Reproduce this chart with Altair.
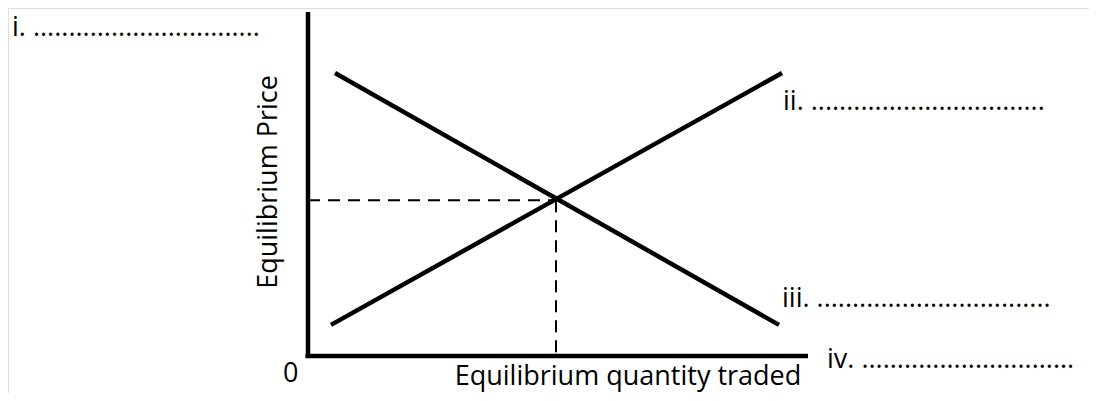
import altair as alt
import pandas as pd

# Curves (quantity, price in abstract units)
supply_q = [0.46, 9.48]
supply_p = [0.9, 8.18]
demand_q = [0.54, 9.42]
demand_p = [8.18, 0.9]
eq_q = 4.96
eq_p = 4.5
x_axis_end = 10.0
y_axis_end = 9.94

FONT = "Open Sans"
FS = 27
XDOM = [-6.0, 15.62]
YDOM = [-1.069, 10.058]

xs = alt.Scale(domain=XDOM, nice=False, zero=False)
ys = alt.Scale(domain=YDOM, nice=False, zero=False)

segs = pd.DataFrame({
    "name": ["supply", "demand", "xaxis", "yaxis"],
    "q1": [supply_q[0], demand_q[0], -0.05, 0.0],
    "p1": [supply_p[0], demand_p[0], 0.0, -0.06],
    "q2": [supply_q[1], demand_q[1], x_axis_end, 0.0],
    "p2": [supply_p[1], demand_p[1], 0.0, y_axis_end],
})
dashes = pd.DataFrame({
    "q1": [0.0, eq_q], "p1": [eq_p, eq_p],
    "q2": [eq_q, eq_q], "p2": [eq_p, 0.0],
})

enc = dict(
    x=alt.X("q1:Q", scale=xs, axis=None),
    y=alt.Y("p1:Q", scale=ys, axis=None),
    x2="q2:Q", y2="p2:Q",
)
solid = alt.Chart(segs).mark_rule(color="black", strokeWidth=4.5, strokeCap="butt").encode(**enc)
dashed = alt.Chart(dashes).mark_rule(color="black", strokeWidth=2, strokeDash=[12, 8]).encode(**enc)

labels = pd.DataFrame({
    "text": ["i. " + "." * 32, "ii. " + "." * 33, "iii. " + "." * 33, "iv. " + "." * 30, "0",
             "Equilibrium quantity traded"],
    "px": [4, 775, 774, 819, 275, 620],
    "py": [28, 102, 299, 360, 374, 377],
    "align": ["left", "left", "left", "left", "left", "center"],
})

def txt(row):
    return alt.Chart(pd.DataFrame({"t": [row["text"]]})).mark_text(
        font=FONT, fontSize=FS, color="black", align=row["align"], baseline="alphabetic"
    ).encode(text="t:N", x=alt.value(row["px"]), y=alt.value(row["py"]))

texts = [txt(r) for _, r in labels.iterrows()]

ytitle = alt.Chart(pd.DataFrame({"t": ["Equilibrium Price"]})).mark_text(
    font=FONT, fontSize=FS, color="black", align="center", baseline="alphabetic", angle=270
).encode(text="t:N", x=alt.value(269), y=alt.value(174))

chart = alt.layer(solid, dashed, *texts, ytitle).properties(
    width=1081, height=385, padding=0,
    autosize=alt.AutoSizeParams(type="none"),
).configure_view(stroke=None).configure(background="white")

chart.save("out.html", embed_options={"renderer": "svg", "actions": False})
